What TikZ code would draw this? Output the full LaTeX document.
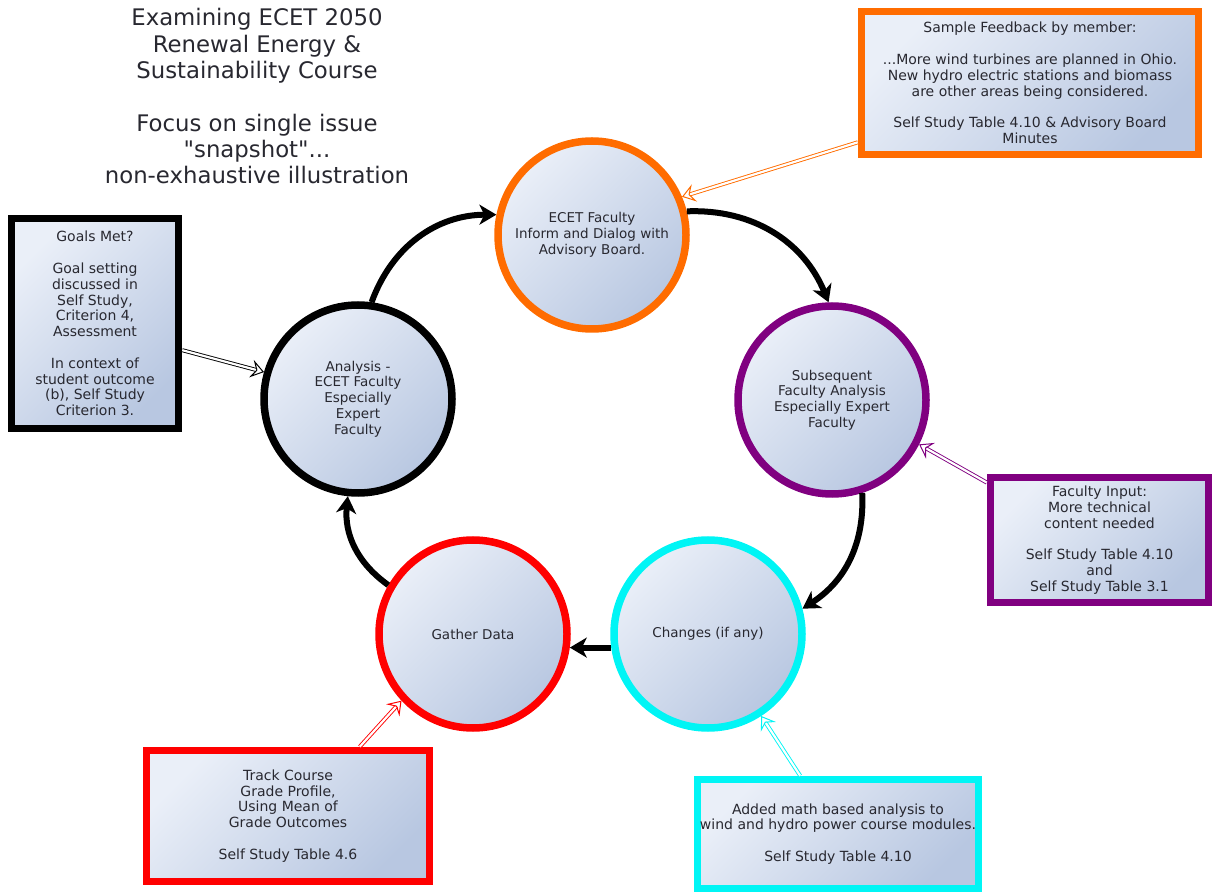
\documentclass[tikz,border=0pt]{standalone}
\usepackage{fontspec}
\setmainfont{DejaVu Sans}[Ligatures=TeXOff]
\usepackage{tikz}
\usetikzlibrary{arrows.meta, positioning}
\definecolor{ringorange}{RGB}{255,108,0}
\definecolor{ringpurple}{RGB}{128,0,128}
\definecolor{ringcyan}{RGB}{0,245,245}
\definecolor{ringred}{RGB}{255,0,0}
\definecolor{shadelight}{RGB}{234,239,248}
\definecolor{shadedark}{RGB}{184,199,225}
\definecolor{inktext}{RGB}{40,40,48}

\begin{document}
\begin{tikzpicture}[x=1pt, y=1pt,
        stage/.style={circle, draw=#1, line width=7.5pt, minimum size=188pt, inner sep=0pt,
            top color=shadelight, bottom color=shadedark, shading angle=45,
            text=inktext, align=center, font=\fontsize{13.5}{15.8}\selectfont},
        notebox/.style={rectangle, draw=#1, line width=7.5pt, inner sep=0pt,
            top color=shadelight, bottom color=shadedark, shading angle=45,
            text=inktext, align=center, font=\fontsize{14}{15.8}\selectfont},
        cycle/.style={line width=6pt, -{Stealth[length=17pt, width=20pt, inset=5pt]}},
        feed/.style={draw=#1, double=white, double distance=2.2pt, line width=0.9pt,
            -{Stealth[open, length=13pt, width=18pt, inset=5pt, line width=1pt]}}]
        \useasboundingbox (0,0) rectangle (1215,895);

        % heading
        \node[anchor=north, align=center, text=inktext, font=\fontsize{22.8}{26.3}\selectfont] (title) at (257,890)
            {Examining ECET 2050\\Renewal Energy \&\\Sustainability Course\\[26.3pt]Focus on single issue\\"snapshot"...\\non-exhaustive illustration};

        % the cycle
        \node[stage=ringorange] (inform) at (592,660) {ECET Faculty\\Inform and Dialog with\\Advisory Board.};
        \node[stage=ringpurple] (subseq) at (832,495) {Subsequent\\Faculty Analysis\\Especially Expert\\Faculty};
        \node[stage=ringcyan] (changes) at (708,261) {Changes (if any)};
        \node[stage=ringred] (gather) at (473,261) {Gather Data};
        \node[stage=black] (analysis) at (358,496) {Analysis -\\ECET Faculty\\Especially\\Expert\\Faculty};

        \draw[cycle] (analysis.82) to[bend left=35] (inform.168);
        \draw[cycle] (inform.14) to[bend left=35] (subseq.92);
        \draw[cycle] (subseq.-72) to[bend left=30] (changes.15);
        \draw[cycle] (changes.188) -- (gather.-8);
        \draw[cycle] (gather.150) to[bend left=30] (analysis.-96);

        % evidence boxes
        \node[notebox=ringorange, minimum width=337pt, minimum height=143pt] (feedback) at (1030,812)
            {Sample Feedback by member:\\[15.8pt]...More wind turbines are planned in Ohio.\\New hydro electric stations and biomass\\are other areas being considered.\\[15.8pt]Self Study Table 4.10 \& Advisory Board\\Minutes};
        \node[notebox=black, minimum width=167pt, minimum height=210pt] (goals) at (95,571.5)
            {Goals Met?\\[15.8pt]Goal setting\\discussed in\\Self Study,\\Criterion 4,\\Assessment\\[15.8pt]In context of\\student outcome\\(b), Self Study\\Criterion 3.};
        \node[notebox=ringpurple, minimum width=218pt, minimum height=125pt] (input) at (1099.5,355)
            {Faculty Input:\\More technical\\content needed\\[15.8pt]Self Study Table 4.10\\and\\Self Study Table 3.1};
        \node[notebox=ringcyan, minimum width=281pt, minimum height=109pt] (added) at (838,61)
            {Added math based analysis to\\wind and hydro power course modules.\\[15.8pt]Self Study Table 4.10};
        \node[notebox=ringred, minimum width=283pt, minimum height=131pt] (track) at (288,79)
            {Track Course\\Grade Profile,\\Using Mean of\\Grade Outcomes\\[15.8pt]Self Study Table 4.6};

        \draw[feed=ringorange] (feedback.199) -- (inform.23);
        \draw[feed=black] (goals.-17) -- (analysis.164);
        \draw[feed=ringpurple] (input.153) -- (subseq.-27);
        \draw[feed=ringcyan] (added.123) -- (changes.-57);
        \draw[feed=ringred] (track.44) -- (gather.223);
\end{tikzpicture}
\end{document}
